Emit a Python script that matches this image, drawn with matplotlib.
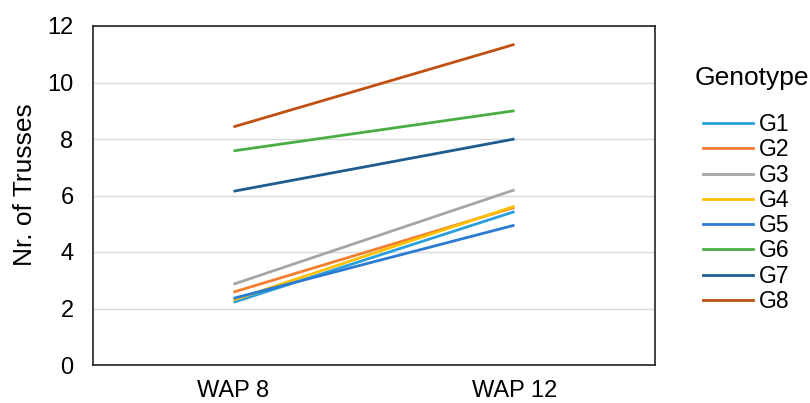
import matplotlib.pyplot as plt
from matplotlib.lines import Line2D

plt.rcParams['font.family'] = ['Liberation Sans', 'DejaVu Sans']

stages = ['WAP 8', 'WAP 12']
genotypes = ['G1', 'G2', 'G3', 'G4', 'G5', 'G6', 'G7', 'G8']
trusses = {
    'G1': [2.22, 5.43],
    'G2': [2.58, 5.58],
    'G3': [2.86, 6.2],
    'G4': [2.3, 5.62],
    'G5': [2.36, 4.95],
    'G6': [7.58, 9.0],
    'G7': [6.15, 8.0],
    'G8': [8.43, 11.35],
}
colors = ['#2A9FDB', '#F47D30', '#A5A5A5', '#FFC000', '#2C7BD2', '#4AAE44', '#1F5C8F', '#C0500F']

fig = plt.figure(figsize=(8.1, 4.03), dpi=100)
ax = fig.add_axes([93 / 810, 38 / 403, 562 / 810, 339 / 403])

x = list(range(len(stages)))
for g, c in zip(genotypes, colors):
    ax.plot(x, trusses[g], color=c, lw=2.0, solid_capstyle='butt')

ax.set_xlim(-0.5, 1.5)
ax.set_ylim(0, 12)
ax.set_yticks(range(0, 13, 2))
ax.set_xticks(x)
ax.set_xticklabels(stages)
ax.tick_params(length=0, labelsize=17)
ax.tick_params(axis='y', pad=14)
ax.tick_params(axis='x', pad=11)
ax.grid(axis='y', color='#D9D9D9', lw=1)
ax.set_axisbelow(True)
for s in ax.spines.values():
    s.set_color('#222222')
    s.set_linewidth(1.2)

fig.text(25 / 810, 1 - 185 / 403, 'Nr. of Trusses', rotation=90,
         ha='center', va='center', fontsize=19)
fig.text(695 / 810, 1 - 78 / 403, 'Genotype', ha='left', va='center', fontsize=19)

handles = [Line2D([], [], color=c, lw=2.0) for c in colors]
leg = fig.legend(handles, genotypes, loc='upper left',
                 bbox_to_anchor=(703 / 810, 1 - 113 / 403), frameon=False,
                 fontsize=16.5, handlelength=2.2, borderpad=0, borderaxespad=0,
                 labelspacing=0.1, handletextpad=0.25)

fig.savefig('out.png', dpi=100)
